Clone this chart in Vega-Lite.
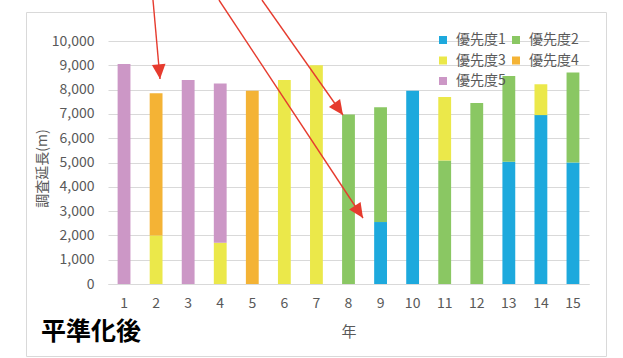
{
  "$schema": "https://vega.github.io/schema/vega-lite/v6.json",
  "width": 481,
  "height": 243,
  "autosize": {"type": "none"},
  "padding": {"left": 108, "top": 41, "right": 34, "bottom": 74},
  "background": "white",
  "config": {
    "view": {"stroke": null},
    "font": "Noto Sans CJK JP"
  },
  "title": {
    "text": "平準化後",
    "orient": "bottom",
    "anchor": "start",
    "frame": "group",
    "font": "Noto Sans CJK JP",
    "fontSize": 25,
    "fontWeight": "bold",
    "color": "#000000",
    "dx": -67,
    "offset": -37
  },
  "datasets": {
    "survey": [
      {"year": 1, "priority": "優先度5", "length": 9050},
      {"year": 2, "priority": "優先度3", "length": 2000},
      {"year": 2, "priority": "優先度4", "length": 5850},
      {"year": 3, "priority": "優先度5", "length": 8400},
      {"year": 4, "priority": "優先度3", "length": 1700},
      {"year": 4, "priority": "優先度5", "length": 6550},
      {"year": 5, "priority": "優先度4", "length": 7950},
      {"year": 6, "priority": "優先度3", "length": 8400},
      {"year": 7, "priority": "優先度3", "length": 9000},
      {"year": 8, "priority": "優先度2", "length": 6980},
      {"year": 9, "priority": "優先度1", "length": 2550},
      {"year": 9, "priority": "優先度2", "length": 4720},
      {"year": 10, "priority": "優先度1", "length": 7950},
      {"year": 11, "priority": "優先度2", "length": 5080},
      {"year": 11, "priority": "優先度3", "length": 2620},
      {"year": 12, "priority": "優先度2", "length": 7450},
      {"year": 13, "priority": "優先度1", "length": 5030},
      {"year": 13, "priority": "優先度2", "length": 3530},
      {"year": 14, "priority": "優先度1", "length": 6950},
      {"year": 14, "priority": "優先度3", "length": 1270},
      {"year": 15, "priority": "優先度1", "length": 5000},
      {"year": 15, "priority": "優先度2", "length": 3700}
    ],
    "arrows": [
      {"id": "a", "fromX": 1.903, "fromY": 11687, "toX": 2.122, "toY": 8436},
      {"id": "b", "fromX": 3.961, "fromY": 11687, "toX": 8.452, "toY": 2716},
      {"id": "c", "fromX": 5.302, "fromY": 11687, "toX": 7.828, "toY": 6955}
    ],
    "border": [
      {"edge": "top", "ax": -2.0416, "ay": 11172.8, "bx": 16.0457, "by": 11172.8},
      {"edge": "bottom", "ax": -2.0416, "ay": -2983.5, "bx": 16.0457, "by": -2983.5},
      {"edge": "left", "ax": -2.0416, "ay": -2983.5, "bx": -2.0416, "by": 11172.8},
      {"edge": "right", "ax": 16.0457, "ay": -2983.5, "bx": 16.0457, "by": 11172.8}
    ]
  },
  "layer": [
    {
      "data": {"name": "survey"},
      "mark": {"type": "bar"},
      "encoding": {
        "x": {
          "field": "year",
          "type": "ordinal",
          "scale": {"paddingInner": 0.6, "paddingOuter": 0.3},
          "axis": {
            "title": "年",
            "labelAngle": 0,
            "domain": true,
            "domainColor": "#D9D9D9",
            "domainWidth": 1,
            "ticks": false,
            "tickSize": 0,
            "labelPadding": 12,
            "labelFont": "Noto Sans CJK JP",
            "labelFontSize": 14,
            "labelColor": "#595959",
            "titleFont": "Noto Sans CJK JP",
            "titleFontSize": 15,
            "titleFontWeight": "normal",
            "titleColor": "#595959",
            "titleY": 47,
            "titleBaseline": "middle"
          }
        },
        "y": {
          "field": "length",
          "type": "quantitative",
          "stack": "zero",
          "scale": {"domain": [0, 10000], "nice": false},
          "axis": {
            "title": "調査延長(m)",
            "values": [0, 1000, 2000, 3000, 4000, 5000, 6000, 7000, 8000, 9000, 10000],
            "format": ",.0f",
            "grid": true,
            "gridColor": "#D9D9D9",
            "gridWidth": 1,
            "domain": false,
            "ticks": false,
            "tickSize": 0,
            "labelPadding": 14,
            "labelFont": "Noto Sans CJK JP",
            "labelFontSize": 14,
            "labelColor": "#595959",
            "titleFont": "Noto Sans CJK JP",
            "titleFontSize": 14,
            "titleFontWeight": "normal",
            "titleColor": "#595959",
            "titleX": -66,
            "titleY": 127,
            "titleAngle": -90,
            "titleAlign": "center",
            "titleBaseline": "middle"
          }
        },
        "color": {
          "field": "priority",
          "type": "nominal",
          "scale": {
            "domain": ["優先度1", "優先度3", "優先度5", "優先度2", "優先度4"],
            "range": ["#1DA9DD", "#EBE84A", "#CC97C6", "#8AC763", "#F4B335"]
          },
          "legend": {
            "title": null,
            "orient": "none",
            "legendX": 328,
            "legendY": -8,
            "columns": 2,
            "direction": "vertical",
            "symbolType": "square",
            "symbolSize": 64,
            "symbolStrokeWidth": 0,
            "labelFont": "Noto Sans CJK JP",
            "labelFontSize": 14,
            "labelColor": "#595959",
            "labelOffset": 6,
            "columnPadding": 3,
            "rowPadding": 6.5
          }
        },
        "order": {"field": "priority", "type": "nominal", "sort": "ascending"}
      }
    },
    {
      "layer": [
        {
          "data": {"name": "border"},
          "mark": {"type": "rule", "color": "#D9D9D9", "strokeWidth": 1},
          "encoding": {
            "x": {"field": "ax", "type": "quantitative", "scale": {"domain": [0.5, 15.5], "nice": false, "zero": false}, "axis": null},
            "x2": {"field": "bx"},
            "y": {"field": "ay", "type": "quantitative", "scale": {"domain": [0, 10000], "nice": false, "zero": false}, "axis": null},
            "y2": {"field": "by"}
          }
        },
        {
          "data": {"name": "arrows"},
          "mark": {"type": "rule", "color": "#E63B2E", "strokeWidth": 1.4},
          "encoding": {
            "x": {"field": "fromX", "type": "quantitative", "scale": {"domain": [0.5, 15.5], "nice": false, "zero": false}, "axis": null},
            "x2": {"field": "toX"},
            "y": {"field": "fromY", "type": "quantitative", "scale": {"domain": [0, 10000], "nice": false, "zero": false}, "axis": null},
            "y2": {"field": "toY"}
          }
        },
        {
          "data": {"name": "arrows"},
          "transform": [{"filter": "datum.id === 'a'"}],
          "mark": {"type": "point", "shape": "M0,0L-0.93,2L0.93,2Z", "size": 216, "filled": true, "color": "#E63B2E", "opacity": 1, "strokeWidth": 0, "angle": 174.9},
          "encoding": {
            "x": {"field": "toX", "type": "quantitative", "scale": {"domain": [0.5, 15.5], "nice": false, "zero": false}, "axis": null},
            "y": {"field": "toY", "type": "quantitative", "scale": {"domain": [0, 10000], "nice": false, "zero": false}, "axis": null}
          }
        },
        {
          "data": {"name": "arrows"},
          "transform": [{"filter": "datum.id === 'b'"}],
          "mark": {"type": "point", "shape": "M0,0L-0.93,2L0.93,2Z", "size": 216, "filled": true, "color": "#E63B2E", "opacity": 1, "strokeWidth": 0, "angle": 146.5},
          "encoding": {
            "x": {"field": "toX", "type": "quantitative", "scale": {"domain": [0.5, 15.5], "nice": false, "zero": false}, "axis": null},
            "y": {"field": "toY", "type": "quantitative", "scale": {"domain": [0, 10000], "nice": false, "zero": false}, "axis": null}
          }
        },
        {
          "data": {"name": "arrows"},
          "transform": [{"filter": "datum.id === 'c'"}],
          "mark": {"type": "point", "shape": "M0,0L-0.93,2L0.93,2Z", "size": 216, "filled": true, "color": "#E63B2E", "opacity": 1, "strokeWidth": 0, "angle": 144.8},
          "encoding": {
            "x": {"field": "toX", "type": "quantitative", "scale": {"domain": [0.5, 15.5], "nice": false, "zero": false}, "axis": null},
            "y": {"field": "toY", "type": "quantitative", "scale": {"domain": [0, 10000], "nice": false, "zero": false}, "axis": null}
          }
        }
      ]
    }
  ],
  "resolve": {"scale": {"x": "independent", "y": "independent"}}
}
